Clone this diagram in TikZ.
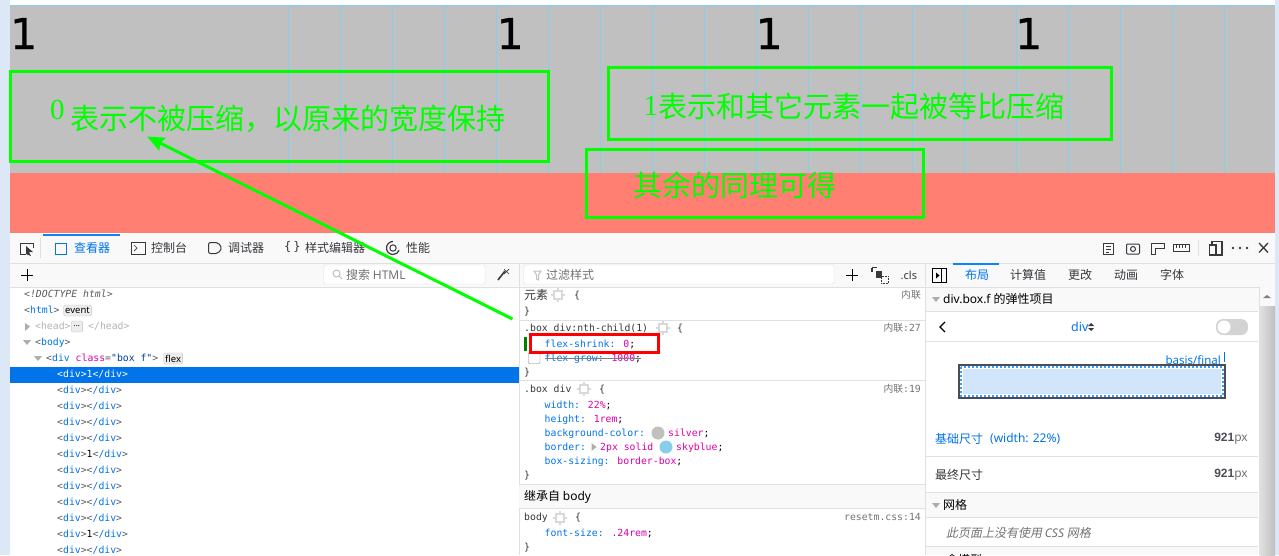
\documentclass[tikz,border=0pt]{standalone}
\usepackage{fontspec}
\setmainfont{Noto Sans}
\newfontfamily\cjkfont{Noto Sans CJK SC}
\newfontfamily\cjkslant[FakeSlant=0.2]{Noto Sans CJK SC}
\newfontfamily\monofont{DejaVu Sans Mono}
\newfontfamily\numfont[FakeBold=0.6]{DejaVu Sans}
\newfontfamily\seriffont{Liberation Serif}
\newfontfamily\valuefont{Liberation Sans}
\usetikzlibrary{arrows.meta}
\definecolor{PaneBlue}{HTML}{DCE8F5}
\definecolor{BarGray}{HTML}{F9F9FA}
\definecolor{LineGray}{HTML}{E0E0E2}
\definecolor{Silver}{HTML}{C0C0C0}
\definecolor{SkyBlue}{HTML}{87CEEB}
\definecolor{Salmon}{HTML}{FF8072}
\definecolor{MarkGreen}{HTML}{00FF00}
\definecolor{TabBlue}{HTML}{0A84FF}
\definecolor{LinkBlue}{HTML}{0074E8}
\definecolor{Magenta}{HTML}{DD00A9}
\definecolor{ValueBlue}{HTML}{003EAA}
\definecolor{TagGray}{HTML}{5A5A5F}
\definecolor{IconDark}{HTML}{38383D}
\definecolor{SoftGray}{HTML}{737373}
\definecolor{BoxDark}{HTML}{4C4C52}
\newcommand{\tagname}[1]{\textcolor{TagGray}{<}\textcolor{LinkBlue}{#1}\textcolor{TagGray}{>}}
\newcommand{\propname}[2]{\textcolor{LinkBlue}{#1:} \textcolor{Magenta}{#2}\textcolor{black}{;}}
\begin{document}
\begin{tikzpicture}[x=1pt, y=-1pt,
    gridline/.style={draw=SkyBlue, line width=1pt},
    markbox/.style={draw=MarkGreen, line width=3pt},
    sepline/.style={draw=LineGray, line width=1pt},
    marktext/.style={text=MarkGreen, font=\cjkfont\fontsize{29}{29}\selectfont, inner sep=0, anchor=west},
    markdigit/.style={text=MarkGreen, font=\seriffont\fontsize{29}{29}\selectfont, inner sep=0, anchor=west},
    bignum/.style={text=black, font=\numfont\fontsize{42.5}{42.5}\selectfont, inner sep=0, anchor=base west},
    toolfont/.style={font=\cjkfont\fontsize{12}{12}\selectfont, text=IconDark, inner sep=0, anchor=west},
    tabfont/.style={toolfont, text=LinkBlue},
    code/.style={font=\monofont\fontsize{9.8}{10}\selectfont, inner sep=0, anchor=west,
        text height=9.5pt, text depth=2pt, text=IconDark},
    sidenote/.style={code, anchor=east, text=SoftGray},
    uitext/.style={font=\fontsize{12}{12}\selectfont, inner sep=0, anchor=west, text=IconDark},
    cjktext/.style={toolfont},
    badge/.style={draw=Silver, fill=BarGray!90!gray, rounded corners=1.5pt, inner xsep=1.5pt, inner ysep=0.5pt,
        font=\fontsize{9.5}{10}\selectfont, text=black, anchor=west, minimum height=11pt},
    searchbox/.style={draw=LineGray, fill=white, rounded corners=1.5pt},
    icon/.style={draw=IconDark, line width=1pt},
    triangle/.style={fill=Silver!70!gray},
    boxicon/.pic={
        \draw[draw=Silver!60!white, line width=1.2pt] (-4,-4) rectangle (4,4);
        \draw[draw=Silver!60!white, line width=1.2pt] (-7,0) -- (-4,0) (4,0) -- (7,0) (0,-7) -- (0,-4) (0,4) -- (0,7);
    }
]
\path[use as bounding box, clip] (0,0) rectangle (1279,555);
\fill[white] (0,0) rectangle (1279,555);
\fill[PaneBlue] (0,0) rectangle (10,555);
\fill[PaneBlue] (1275,0) rectangle (1279,555);
\fill[Silver] (10,5) rectangle (1275,173);
\fill[Salmon] (10,173) rectangle (1275,233);
\draw[draw=SkyBlue, line width=0.7pt] (10,5) -- (1275,5);
\draw[gridline] (288,5) -- (288,173) (340,5) -- (340,173) (392,5) -- (392,173) (444,5) -- (444,173)
    (496,5) -- (496,173) (548,5) -- (548,173) (600,5) -- (600,173) (652,5) -- (652,173)
    (704,5) -- (704,173) (756,5) -- (756,173) (808,5) -- (808,173) (860,5) -- (860,173)
    (912,5) -- (912,173) (964,5) -- (964,173) (1016,5) -- (1016,173) (1068,5) -- (1068,173)
    (1120,5) -- (1120,173) (1172,5) -- (1172,173) (1224,5) -- (1224,173);
\node (Num01) [bignum] at (10,49) {1};
\node (Num02) [bignum] at (496.5,49) {1};
\node (Num03) [bignum] at (755.5,49) {1};
\node (Num04) [bignum] at (1015,49) {1};

\fill[BarGray] (10,233) rectangle (1275,287);
\draw[sepline] (10,263) -- (1275,263);
\draw[sepline] (10,287) -- (1275,287);
\draw[sepline] (519,263) -- (519,555);
\draw[sepline] (925,263) -- (925,555);
\draw[sepline] (40,238) -- (40,258);
\fill[TabBlue] (43,234) rectangle (120,236);
\draw[icon] (20,243) -- (20,254) -- (26,254) (20,243) -- (33,243) -- (33,248);
\fill[IconDark] (26,246) -- (33,252) -- (29,252) -- (31,256) -- (26,254) -- cycle;
\draw[icon, draw=LinkBlue] (55.5,243.5) rectangle (66.5,254.5);
\node (TabInspector) [tabfont] at (74,248) {查看器};
\draw[icon] (131.5,242) rectangle (145.5,254);
\draw[icon, line width=0.7pt] (134,245) -- (137,248) -- (134,251);
\node (TabConsole) [toolfont] at (151,248) {控制台};
\draw[icon, rounded corners=2pt] (208.5,242.5) -- (218,242.5) -- (222,248) -- (218,253.5) -- (208.5,253.5) -- cycle;
\node (TabDebugger) [toolfont] at (228,248) {调试器};
\node (TabBraces) [toolfont, font=\monofont\fontsize{12}{12}\selectfont] at (284,247) {\{\,\}};
\node (TabStyles) [toolfont] at (305,248) {样式编辑器};
\draw[icon, line width=1.2pt] (393,241.5) arc (-90:-340:6.5);
\draw[icon] (393,248) circle (3.2);
\node (TabPerf) [toolfont] at (406,248) {性能};

\draw[icon] (1103.5,243) rectangle (1113.5,254);
\draw[icon] (1106,246) -- (1111,246) (1106,249) -- (1111,249) (1106,252) -- (1109,252);
\draw[icon, rounded corners=1pt] (1126.5,244) rectangle (1139.5,254);
\draw[icon] (1133,249) circle (2.5);
\draw[icon] (1151,254) -- (1151,243) -- (1164,243) -- (1164,248) -- (1155,248) -- (1155,254) -- cycle;
\draw[icon] (1173,244.5) rectangle (1189,251.5);
\draw[icon, line width=0.7pt] (1176,244.5) -- (1176,247.5) (1179,244.5) -- (1179,247.5) (1182,244.5) -- (1182,247.5) (1185,244.5) -- (1185,247.5);
\draw[sepline] (1198,240) -- (1198,256);
\draw[icon, line width=1.2pt] (1209.5,245) rectangle (1216,255);
\draw[icon, line width=1.2pt] (1212,245) -- (1212,241.5) -- (1222,241.5) -- (1222,255) -- (1216,255);
\fill[IconDark] (1233,248) circle (1.4) (1240,248) circle (1.4) (1247,248) circle (1.4);
\draw[icon, line width=1.3pt] (1259,243) -- (1268,252.5) (1268,243) -- (1259,252.5);

\draw[icon, draw=black] (21,275) -- (33,275) (27,269) -- (27,281);
\draw[searchbox] (323.5,265) rectangle (485,284);
\draw[draw=Silver, line width=1pt] (336.5,273.5) circle (3.5) (339,276) -- (342,279);
\node (SearchHtml) [toolfont, text=SoftGray] at (346,275) {搜索 {\rmfamily HTML}};
\draw[icon, line width=1.6pt] (498,280) -- (505,271);
\draw[icon, line width=0.7pt] (504,269) -- (509,274) (509,269) -- (504,274);

\node (Doctype) [code, text=TagGray] at (24,294) {\itshape <!DOCTYPE html>};
\node (TagHtml) [code] at (24,310) {\tagname{html}};
\node (BadgeEvent) [badge] at (63.5,310.5) {event};
\fill[triangle] (25,323) -- (30,326.5) -- (25,331) -- cycle;
\node (TagHead) [code, text=Silver!80!gray] at (35,326) {<head>};
\node (BadgeDots) [badge, font=\fontsize{8}{8}\selectfont, inner xsep=2.5pt] at (71,326.5) {...};
\node (TagHeadEnd) [code, text=Silver!80!gray] at (88,326) {</head>};
\fill[triangle] (23,340) -- (31,340) -- (27,345) -- cycle;
\node (TagBody) [code] at (35,342) {\tagname{body}};
\fill[triangle] (34,356) -- (42,356) -- (38,361) -- cycle;
\node (TagBox) [code] at (46,358) {\textcolor{TagGray}{<}\textcolor{LinkBlue}{div} \textcolor{Magenta}{class}\textcolor{TagGray}{=}\textcolor{ValueBlue}{"box f"}\textcolor{TagGray}{>}};
\node (BadgeFlex) [badge] at (163.5,358.5) {flex};
\fill[LinkBlue] (10,367) rectangle (519,383);
\node (Div01) [code, text=white] at (57,374) {<div>1</div>};
\node (Div02) [code] at (57,390) {\tagname{div}\tagname{/div}};
\node (Div03) [code] at (57,406) {\tagname{div}\tagname{/div}};
\node (Div04) [code] at (57,422) {\tagname{div}\tagname{/div}};
\node (Div05) [code] at (57,438) {\tagname{div}\tagname{/div}};
\node (Div06) [code] at (57,454) {\tagname{div}\textcolor{black}{1}\tagname{/div}};
\node (Div07) [code] at (57,470) {\tagname{div}\tagname{/div}};
\node (Div08) [code] at (57,486) {\tagname{div}\tagname{/div}};
\node (Div09) [code] at (57,502) {\tagname{div}\tagname{/div}};
\node (Div10) [code] at (57,518) {\tagname{div}\tagname{/div}};
\node (Div11) [code] at (57,534) {\tagname{div}\textcolor{black}{1}\tagname{/div}};
\node (Div12) [code] at (57,550) {\tagname{div}\tagname{/div}};

\draw[searchbox] (523.5,265) rectangle (834,284);
\draw[draw=Silver, line width=1pt] (534,271) -- (541,271) -- (538.5,275) -- (538.5,280) -- (536.5,279) -- (536.5,275) -- cycle;
\node (FilterStyle) [toolfont, text=SoftGray] at (546,275) {过滤样式};
\draw[icon, draw=black] (846,275) -- (858,275) (852,269) -- (852,281);
\draw[icon, line width=1.2pt] (872,267.5) -- (872,272) (872,267.5) -- (877,267.5);
\fill[IconDark] (876,271) rectangle (882,278);
\draw[draw=IconDark, line width=0.5pt, densely dotted] (881.5,276.5) rectangle (888,283);
\node (ClsText) [uitext, font=\fontsize{11}{11}\selectfont] at (900.5,275) {.cls};

\node (RuleElement) [cjktext] at (524,295) {元素};
\pic at (558,295) {boxicon};
\node (RuleElementOpen) [code] at (574,295) {\{};
\node (RuleElementSrc) [sidenote] at (921,295) {\cjkfont 内联};
\node (RuleElementClose) [code] at (524,311) {\}};
\draw[sepline] (519,320) -- (925,320);
\node (RuleNth) [code] at (524,328) {.box div:nth-child(1)};
\pic at (663,328) {boxicon};
\node (RuleNthOpen) [code] at (677,328) {\{};
\node (RuleNthSrc) [sidenote] at (921,328) {{\cjkfont 内联}:27};
\fill[green!50!black] (524,337) rectangle (527,351);
\node (FlexShrink) [code] at (544.5,344) {\propname{flex-shrink}{0}};
\draw[draw=gray, rounded corners=1pt] (528.5,353) rectangle (540,363.5);
\node (FlexGrow) [code] at (544.5,358) {\propname{flex-grow}{1000}};
\draw[draw=gray, line width=0.8pt] (FlexGrow.west) -- (FlexGrow.east);
\draw[draw=red, line width=3pt] (530,334) rectangle (658,352);
\node (RuleNthClose) [code] at (524,372) {\}};
\draw[sepline] (519,380) -- (925,380);
\node (RuleBox) [code] at (524,389) {.box div};
\pic at (584,389) {boxicon};
\node (RuleBoxOpen) [code] at (599,389) {\{};
\node (RuleBoxSrc) [sidenote] at (921,389) {{\cjkfont 内联}:19};
\node (PropWidth) [code] at (544.5,405) {\propname{width}{22\%}};
\node (PropHeight) [code] at (544.5,419) {\propname{height}{1rem}};
\node (PropBg) [code] at (544.5,433) {\textcolor{LinkBlue}{background-color:}};
\fill[Silver] (658,433) circle (6.5);
\node (PropBgValue) [code] at (668,433) {\textcolor{Magenta}{silver}\textcolor{black}{;}};
\node (PropBorder) [code] at (544.5,447) {\textcolor{LinkBlue}{border:}};
\fill[triangle] (591.5,443) -- (596.5,447) -- (591.5,451) -- cycle;
\node (PropBorderValue) [code] at (600,447) {\textcolor{Magenta}{2px solid}};
\fill[SkyBlue] (666,447) circle (6.5);
\node (PropBorderColor) [code] at (676,447) {\textcolor{Magenta}{skyblue}\textcolor{black}{;}};
\node (PropSizing) [code] at (544.5,461) {\propname{box-sizing}{border-box}};
\node (RuleBoxClose) [code] at (524,475) {\}};
\fill[BarGray] (519,484) rectangle (925,508);
\draw[sepline] (519,484) -- (925,484);
\draw[sepline] (519,508) -- (925,508);
\node (Inherited) [cjktext, text=black] at (524,497) {继承自 {\rmfamily body}};
\node (RuleBody) [code] at (524,517) {body};
\pic at (560,518) {boxicon};
\node (RuleBodyOpen) [code] at (575,517) {\{};
\node (RuleBodySrc) [sidenote] at (921,517) {resetm.css:14};
\node (PropFont) [code] at (544.5,533) {\propname{font-size}{.24rem}};
\node (RuleBodyClose) [code] at (524,547) {\}};

\draw[icon, draw=black, line width=0.9pt] (932.5,268.5) rectangle (946,282);
\draw[icon, draw=black, line width=0.9pt] (941.5,268.5) -- (941.5,282);
\fill[black] (936,272.5) -- (939.5,275.5) -- (936,278.5) -- cycle;
\fill[TabBlue] (953,262.5) rectangle (999,265);
\node (TabLayout) [tabfont] at (965,275) {布局};
\node (TabComputed) [toolfont] at (1010,275) {计算值};
\node (TabChanges) [toolfont] at (1068,275) {更改};
\node (TabAnim) [toolfont] at (1114,275) {动画};
\node (TabFonts) [toolfont] at (1160,275) {字体};
\fill[BarGray] (926,288) rectangle (1259,311);
\draw[sepline] (925,311) -- (1258,311);
\fill[triangle] (932,297) -- (940,297) -- (936,302) -- cycle;
\node (FlexHead) [uitext, text=black] at (943,299) {div.box.f {\cjkfont 的弹性项目}};
\draw[icon, draw=black, line width=1.2pt] (945,322) -- (940,327) -- (945,332);
\node (FlexDiv) [uitext, text=LinkBlue, font=\fontsize{12.5}{13}\selectfont] at (1071,327) {div};
\fill[IconDark] (1091,323) -- (1094,326) -- (1088,326) -- cycle (1091,331) -- (1094,328) -- (1088,328) -- cycle;
\fill[Silver!70!white, rounded corners=7pt] (1216,319) rectangle (1248,335);
\fill[white] (1224,327) circle (6.5);
\draw[sepline] (925,341) -- (1258,341);
\node (BasisFinal) [uitext, anchor=east, text=LinkBlue, font=\fontsize{11.5}{12}\selectfont] at (1221,360) {basis/final};
\draw[draw=LinkBlue, line width=0.8pt] (1224.5,352) -- (1224.5,362);
\draw[draw=BoxDark, fill=white, line width=2pt] (959,365) rectangle (1224.5,398);
\fill[LinkBlue!18!white] (963,369) rectangle (1220.5,394);
\draw[draw=TabBlue!80!white, line width=2pt, dash pattern=on 2pt off 2pt] (961,367) rectangle (1222.5,396);
\node (BaseSize) [cjktext, text=LinkBlue] at (935,439) {基础尺寸};
\node (BaseWidth) [uitext, text=LinkBlue] at (990,439) {(width: 22\%)};
\node (BaseValue) [uitext, anchor=east, text=SoftGray] at (1248,439) {\textcolor{BoxDark}{\valuefont\bfseries 921}px};
\draw[sepline] (925,456) -- (1258,456);
\node (FinalSize) [cjktext] at (935,475) {最终尺寸};
\node (FinalValue) [uitext, anchor=east, text=SoftGray] at (1248,475) {\textcolor{BoxDark}{\valuefont\bfseries 921}px};
\fill[BarGray] (926,493) rectangle (1258,517);
\draw[sepline] (925,492) -- (1258,492);
\draw[sepline] (925,517) -- (1258,517);
\fill[triangle] (932,503) -- (940,503) -- (936,508) -- cycle;
\node (GridHead) [cjktext, text=black] at (943,505) {网格};
\node (GridNote) [uitext, text=SoftGray] at (946,533) {\cjkslant 此页面上没有使用 {\rmfamily\itshape CSS} 网格};
\fill[BarGray] (926,546) rectangle (1258,555);
\draw[sepline] (925,546) -- (1258,546);
\node (BoxHead) [cjktext, text=black] at (946,560) {盒模型};

\fill[BarGray] (1259,287) rectangle (1275,555);
\draw[sepline] (1259,287) -- (1259,555);
\fill[gray] (1263,298) -- (1271,298) -- (1267,295) -- cycle;
\shade[left color=Silver!50!white, right color=Silver] (1260,306) rectangle (1275,555);

\draw[markbox] (10,71.5) rectangle (548.5,161.5);
\draw[markbox] (608.5,67.5) rectangle (1111,139.5);
\draw[markbox] (586.5,149.5) rectangle (923.5,217);
\node (ZeroDigit) [markdigit] at (50,110) {0};
\node (ZeroText) [marktext] at (70,119) {表示不被压缩，以原来的宽度保持};
\node (OneDigit) [markdigit] at (643.5,106) {1};
\node (OneText) [marktext] at (658,106) {表示和其它元素一起被等比压缩};
\node (RestText) [marktext] at (633,185) {其余的同理可得};

\coordinate (ArrowStart) at (512.5,319);
\coordinate (ArrowTip) at (147,136.5);
\draw[draw=MarkGreen, line width=3pt, -{Stealth[length=17pt, width=14pt, inset=2pt]}] (ArrowStart) -- (ArrowTip);
\end{tikzpicture}
\end{document}
